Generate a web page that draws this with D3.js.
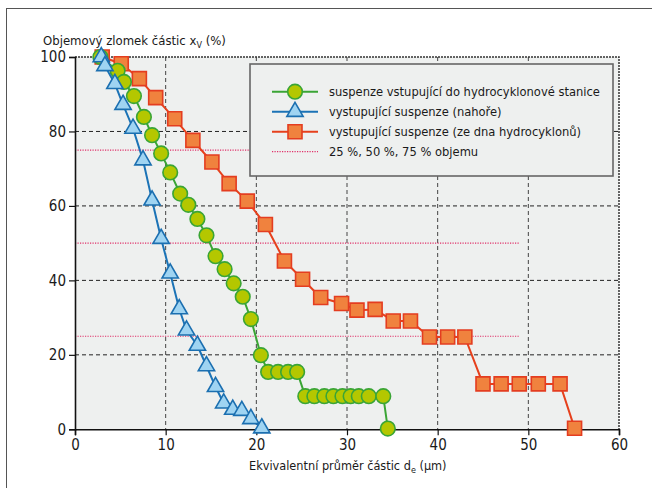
<!DOCTYPE html>
<html>
<head>
<meta charset="utf-8">
<script src="https://cdn.jsdelivr.net/npm/d3@7"></script>
<style>
  body { margin: 0; background: #fff; }
  svg text { font-family: "Liberation Sans Narrow", "DejaVu Sans Condensed", "Arial Narrow", sans-serif; fill: #1a1a1a; }
</style>
</head>
<body>
<svg id="chart" width="652" height="488"></svg>
<script>
// values: [diameter µm, volume fraction %]
const feedSeries = [
    [2.8, 100], [4.7, 96.3], [5.4, 93.3], [6.5, 89.5], [7.6, 83.9], [8.5, 79], [9.5, 74.1],
    [10.5, 69], [11.6, 63.3], [12.5, 60.3], [13.5, 56.5], [14.5, 52.1], [15.5, 46.5],
    [16.5, 43], [17.5, 39.2], [18.5, 35.6], [19.4, 29.6], [20.5, 19.9], [21.3, 15.4],
    [22.4, 15.4], [23.5, 15.4], [24.5, 15.4], [25.4, 8.9], [26.4, 8.9], [27.5, 8.9],
    [28.5, 8.9], [29.5, 8.9], [30.4, 8.9], [31.3, 8.9], [32.4, 8.9], [34.0, 8.9], [34.5, 0.2]
];
const overflowSeries = [
    [2.9, 100], [3.3, 97.6], [4.4, 92.8], [5.3, 87.2], [6.4, 80.8], [7.5, 72.3], [8.5, 61.5],
    [9.5, 51.2], [10.5, 41.9], [11.5, 32.3], [12.3, 26.6], [13.5, 22.5], [14.5, 17],
    [15.5, 11.4], [16.4, 7], [17.4, 5.3], [18.4, 5], [19.4, 2.8], [20.6, 0.3]
];
const underflowSeries = [
    [3.0, 100], [5.1, 98.2], [7.1, 94.2], [8.9, 89.1], [11, 83.4], [13, 77.6], [15.1, 71.8],
    [17, 66], [19, 61.3], [21, 55], [23.1, 45.2], [25.1, 40.3], [27.1, 35.4], [29.4, 33.8],
    [31.1, 32], [33.1, 32.2], [35.1, 29.1], [37, 29.1], [39.1, 24.8], [41.1, 24.8], [43, 24.8],
    [45, 12.2], [47, 12.2], [49, 12.2], [51.1, 12.2], [53.5, 12.2], [55.1, 0.3]
];
const quartileLevels = [25, 50, 75];
const quartileEnd = 49;
const xTicks = [0, 10, 20, 30, 40, 50, 60];
const yTicks = [0, 20, 40, 60, 80, 100];
const legendLabels = [
    "suspenze vstupující do hydrocyklonové stanice",
    "vystupující suspenze (nahoře)",
    "vystupující suspenze (ze dna hydrocyklonů)",
    "25 %, 50 %, 75 % objemu"
];

const svg = d3.select("#chart"),
    pL = 75, pR = 619, pT = 57, pB = 429.3;

const x = d3.scaleLinear().domain([0, 60]).range([pL, pR]),
    y = d3.scaleLinear().domain([0, 100]).range([pB, pT]);

const styles = {
    feed: { line: "#3aa535", fill: "#b4c700", stroke: "#3aa535" },
    over: { line: "#1b73b6", fill: "#9fd4f2", stroke: "#1b6fb0" },
    under: { line: "#e6401c", fill: "#f0823e", stroke: "#e43d20" },
    pink: "#e0306a"
};

// outer frame
svg.append("rect")
    .attr("x", 6.5).attr("y", 8.5)
    .attr("width", 700).attr("height", 600)
    .attr("fill", "none").attr("stroke", "#555").attr("stroke-width", 1);

// plot background
svg.append("rect")
    .attr("x", pL).attr("y", pT)
    .attr("width", pR - pL).attr("height", pB - pT)
    .attr("fill", "#eef0ef");

// grid
svg.append("g").selectAll("line")
    .data(xTicks.slice(1, -1))
    .join("line")
    .attr("x1", d => x(d)).attr("x2", d => x(d))
    .attr("y1", pT).attr("y2", pB)
    .attr("stroke", "#444").attr("stroke-dasharray", "4,3");
svg.append("g").selectAll("line")
    .data(yTicks.slice(1, -1))
    .join("line")
    .attr("x1", pL).attr("x2", pR)
    .attr("y1", d => y(d)).attr("y2", d => y(d))
    .attr("stroke", "#222").attr("stroke-dasharray", "4,3");

// top & right border, dotted
svg.append("path")
    .attr("d", `M${pL},${pT}H${pR}V${pB}`)
    .attr("fill", "none").attr("stroke", "#333").attr("stroke-width", 1.5)
    .attr("stroke-dasharray", "2,1");

// quartile lines
svg.append("g").selectAll("line")
    .data(quartileLevels)
    .join("line")
    .attr("x1", x(0)).attr("x2", x(quartileEnd))
    .attr("y1", d => y(d)).attr("y2", d => y(d))
    .attr("stroke", styles.pink).attr("stroke-width", 1.2)
    .attr("stroke-dasharray", "1.2,1.3");

// legend box (covers grid and 75 % line)
const lg = svg.append("g");
lg.append("rect")
    .attr("x", 250).attr("y", 64)
    .attr("width", 363).attr("height", 112)
    .attr("fill", "#eef0ef").attr("stroke", "#666").attr("stroke-width", 1.6);

// axes
const xAxis = svg.append("g")
    .attr("transform", `translate(0,${pB})`)
    .call(d3.axisBottom(x).tickValues(xTicks).tickSize(6).tickPadding(4));
const yAxis = svg.append("g")
    .attr("transform", `translate(${pL},0)`)
    .call(d3.axisLeft(y).tickValues(yTicks).tickSize(6).tickPadding(3));
[xAxis, yAxis].forEach(a => {
    a.select(".domain").attr("stroke", "#111").attr("stroke-width", 1.6);
    a.selectAll(".tick line").attr("stroke", "#111").attr("stroke-width", 1.2);
    a.selectAll(".tick text").attr("font-size", 15).attr("fill", "#1a1a1a")
        .style("font-family", "'Liberation Sans Narrow', 'DejaVu Sans Condensed', sans-serif");
});

// axis titles
const yTitle = svg.append("text").attr("x", 43).attr("y", 45).attr("font-size", 13);
yTitle.append("tspan").text("Objemový zlomek částic x");
yTitle.append("tspan").attr("font-size", 9).attr("dy", 3).text("V");
yTitle.append("tspan").attr("dy", -3).text(" (%)");

const xTitle = svg.append("text").attr("x", 249).attr("y", 470).attr("font-size", 12.6);
xTitle.append("tspan").text("Ekvivalentní průměr částic d");
xTitle.append("tspan").attr("font-size", 9).attr("dy", 3).text("e");
xTitle.append("tspan").attr("dy", -3).text(" (µm)");

// marker shapes
const circleSym = d3.symbol().type(d3.symbolCircle).size(Math.PI * 7.3 * 7.3),
    triSym = d3.symbol().type(d3.symbolTriangle).size(115),
    sqSym = d3.symbol().type(d3.symbolSquare).size(14 * 14);

function drawSeries(data, st, sym) {
    const g = svg.append("g");
    g.append("path")
        .datum(data)
        .attr("d", d3.line().x(d => x(d[0])).y(d => y(d[1])))
        .attr("fill", "none").attr("stroke", st.line).attr("stroke-width", 2);
    g.selectAll("path.m")
        .data(data)
        .join("path")
        .attr("class", "m")
        .attr("transform", d => `translate(${x(d[0])},${y(d[1])})`)
        .attr("d", sym)
        .attr("fill", st.fill).attr("stroke", st.stroke).attr("stroke-width", 1.6);
}

drawSeries(underflowSeries, styles.under, sqSym);
drawSeries(feedSeries, styles.feed, circleSym);
drawSeries(overflowSeries, styles.over, triSym);

// legend entries
const rows = [styles.feed, styles.over, styles.under];
const syms = [circleSym, triSym, sqSym];
legendLabels.forEach((lab, i) => {
    const ry = 91.7 + i * 20;
    if (i < 3) {
        lg.append("line")
            .attr("x1", 272).attr("x2", 318).attr("y1", ry).attr("y2", ry)
            .attr("stroke", rows[i].line).attr("stroke-width", 2);
        lg.append("path")
            .attr("transform", `translate(295,${ry})`)
            .attr("d", syms[i])
            .attr("fill", rows[i].fill).attr("stroke", rows[i].stroke).attr("stroke-width", 1.6);
    } else {
        lg.append("line")
            .attr("x1", 272).attr("x2", 318).attr("y1", ry).attr("y2", ry)
            .attr("stroke", styles.pink).attr("stroke-width", 1.2)
            .attr("stroke-dasharray", "1.2,1.3");
    }
    lg.append("text")
        .attr("x", 329).attr("y", ry + 4.5)
        .attr("font-size", 12.8)
        .text(lab);
});
</script>
</body>
</html>
